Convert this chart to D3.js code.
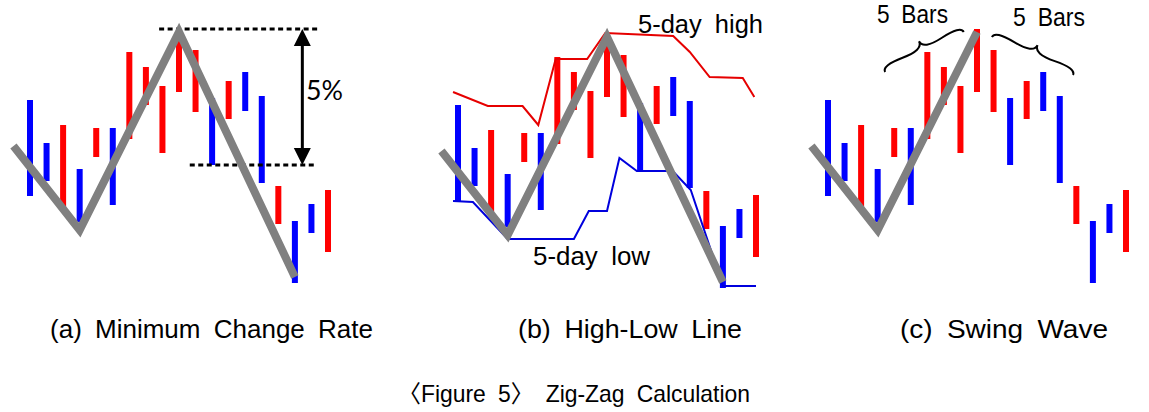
<!DOCTYPE html>
<html>
<head>
<meta charset="utf-8">
<script src="https://cdn.jsdelivr.net/npm/d3@7"></script>
<style>
  html, body { margin: 0; padding: 0; background: #fff; }
  svg { display: block; }
</style>
</head>
<body>
<div id="chart"></div>
<script>
// 价格柱数据（19根），红=上涨，蓝=下跌
const barHigh = [200, 157, 175, 131, 172, 172, 248, 233, 214, 271, 250, 202, 219, 228, 204, 114, 79, 96, 110];
const barLow  = [104, 119,  93,  78, 143,  95, 161, 195, 147, 208, 188, 135, 181, 189, 117,  76, 17, 67, 48];
const barUp   = [0, 0, 1, 0, 1, 0, 1, 1, 1, 1, 1, 0, 1, 0, 0, 1, 0, 0, 1];

// 之字形转折点（柱序号, 价格）
const zigIdx = [-1, 3, 9, 16];
const zigVal = [154, 70, 268, 23];

// (b) 5日最高 / 最低线
const highIdx = [-0.3, 1.8, 3.9, 4.85, 5.9, 7.8, 8.9, 13, 14, 15.2, 17.2, 17.9];
const highVal = [213, 199, 199, 180, 246, 246, 272, 269, 253, 228, 227, 208];
const lowIdx  = [-0.3, 0.9, 3.0, 7.0, 7.9, 9.0, 9.75, 10.8, 12.97, 14.06, 16.0, 18.0];
const lowVal  = [104, 103, 66, 66, 94, 94, 147, 134, 134, 115, 19, 19];

// (a) 最小变化率标注：峰值高点与回落低点
const rateLevels = [271, 135];
const rateSpans = [[7.8, 17.5], [9.65, 17.3]];
const rateArrowIdx = 16.45;

// (c) 摆动波：前后各5根
const braceSpans = [[8.2, 268, 3.45, 228], [14.8, 225, 9.9, 263]];

const captions = ['(a) Minimum Change Rate', '(b) High-Low Line', '(c) Swing Wave'];
const figureTitle = '\u3008Figure 5\u3009 Zig-Zag Calculation';

const width = 1149, height = 412;
const fontFamily = '"Liberation Sans", Arial, "Noto Sans CJK KR", sans-serif';

const svg = d3.select('#chart').append('svg')
  .attr('width', width)
  .attr('height', height);

const x = d3.scaleLinear().domain([0, 18]).range([30, 328]);
const y = d3.scaleLinear().domain([0, 300]).range([300, 0]);

const bars = barHigh.map((h, i) => ({ i, high: h, low: barLow[i], up: barUp[i] }));

// 面板位置
const panels = [
  { dx: 0, dy: 0, caption: captions[0], capX: [50, 373] },
  { dx: 428, dy: 5, caption: captions[1], capX: [518, 742] },
  { dx: 798, dy: 0, caption: captions[2], capX: [900, 1108] }
];

const line = d3.line().x(d => x(d[0])).y(d => y(d[1]));

function drawBars(g) {
  g.append('g')
    .selectAll('rect')
    .data(bars)
    .enter()
    .append('rect')
    .attr('x', d => x(d.i) - 3)
    .attr('y', d => y(d.high))
    .attr('width', 6)
    .attr('height', d => y(d.low) - y(d.high))
    .attr('fill', d => d.up ? '#ff0000' : '#0000ff');
}

function drawZigzag(g, n) {
  const pts = zigIdx.slice(0, n).map((v, k) => [v, zigVal[k]]);
  g.append('path')
    .attr('d', line(pts))
    .attr('fill', 'none')
    .attr('stroke', '#808080')
    .attr('stroke-width', 8)
    .attr('stroke-linejoin', 'miter')
    .attr('stroke-miterlimit', 10);
}

function label(g, text, x0, x1, baseline, size) {
  return g.append('text')
    .attr('x', x0)
    .attr('y', baseline)
    .attr('font-family', fontFamily)
    .attr('font-size', size)
    .attr('fill', '#000')
    .style('word-spacing', '6px')
    .attr('textLength', x1 - x0)
    .attr('lengthAdjust', 'spacingAndGlyphs')
    .text(text);
}

// 花括号路径
function curlyBrace(x1, y1, x2, y2, w, q) {
  let dx = x1 - x2, dy = y1 - y2;
  const len = Math.sqrt(dx * dx + dy * dy);
  dx = dx / len; dy = dy / len;
  const qx1 = x1 + q * w * dy, qy1 = y1 - q * w * dx;
  const qx2 = (x1 - 0.25 * len * dx) + (1 - q) * w * dy;
  const qy2 = (y1 - 0.25 * len * dy) - (1 - q) * w * dx;
  const tx1 = (x1 - 0.5 * len * dx) + w * dy;
  const ty1 = (y1 - 0.5 * len * dy) - w * dx;
  const qx3 = x2 + q * w * dy, qy3 = y2 - q * w * dx;
  const qx4 = (x1 - 0.75 * len * dx) + (1 - q) * w * dy;
  const qy4 = (y1 - 0.75 * len * dy) - (1 - q) * w * dx;
  return `M ${x1} ${y1} Q ${qx1} ${qy1} ${qx2} ${qy2} T ${tx1} ${ty1} ` +
         `M ${x2} ${y2} Q ${qx3} ${qy3} ${qx4} ${qy4} T ${tx1} ${ty1}`;
}

panels.forEach((p, k) => {
  const g = svg.append('g').attr('transform', `translate(${p.dx},${p.dy})`);

  drawBars(g);

  if (k === 0) {
    // 虚线 + 双向箭头
    rateLevels.forEach((lv, j) => {
      g.append('line')
        .attr('x1', x(rateSpans[j][0]))
        .attr('x2', x(rateSpans[j][1]))
        .attr('y1', y(lv))
        .attr('y2', y(lv))
        .attr('stroke', '#000')
        .attr('stroke-width', 3)
        .attr('stroke-dasharray', '5,3.5');
    });
    const ax = x(rateArrowIdx);
    const yTop = y(rateLevels[0]), yBot = y(rateLevels[1]);
    g.append('line')
      .attr('x1', ax).attr('x2', ax)
      .attr('y1', yTop + 10).attr('y2', yBot - 10)
      .attr('stroke', '#000')
      .attr('stroke-width', 3);
    g.append('path')
      .attr('d', `M${ax},${yTop} L${ax - 8.5},${yTop + 17} L${ax + 8.5},${yTop + 17} Z`)
      .attr('fill', '#000');
    g.append('path')
      .attr('d', `M${ax},${yBot} L${ax - 8.5},${yBot - 17} L${ax + 8.5},${yBot - 17} Z`)
      .attr('fill', '#000');
    g.append('text')
      .attr('x', 306)
      .attr('y', 100)
      .attr('font-family', 'Lato, "Open Sans", sans-serif')
      .attr('font-weight', 400)
      .attr('font-size', 27)
      .attr('fill', '#000')
      .attr('textLength', 37)
      .attr('lengthAdjust', 'spacingAndGlyphs')
      .text('5%');
    drawZigzag(g, 4);
  }

  if (k === 1) {
    g.append('path')
      .attr('d', line(highIdx.map((v, j) => [v, highVal[j]])))
      .attr('fill', 'none')
      .attr('stroke', '#e60000')
      .attr('stroke-width', 2);
    g.append('path')
      .attr('d', line(lowIdx.map((v, j) => [v, lowVal[j]])))
      .attr('fill', 'none')
      .attr('stroke', '#0000dd')
      .attr('stroke-width', 2);
    drawZigzag(g, 4);
    label(g, '5-day high', 210, 335, 28, 25);
    label(g, '5-day low', 105, 222, 260, 25);
  }

  if (k === 2) {
    drawZigzag(g, 3);
    braceSpans.forEach(b => {
      g.append('path')
        .attr('d', curlyBrace(x(b[0]), y(b[1]), x(b[2]), y(b[3]), 12, 0.6))
        .attr('fill', 'none')
        .attr('stroke', '#000')
        .attr('stroke-width', 2);
    });
    label(g, '5 Bars', 79, 150, 23, 25);
    label(g, '5 Bars', 215, 287, 26, 25);
  }

  // 面板标题
  label(svg, p.caption, p.capX[0], p.capX[1], 338, 26);
});

label(svg, figureTitle, 398, 750, 402, 24);
</script>
</body>
</html>
